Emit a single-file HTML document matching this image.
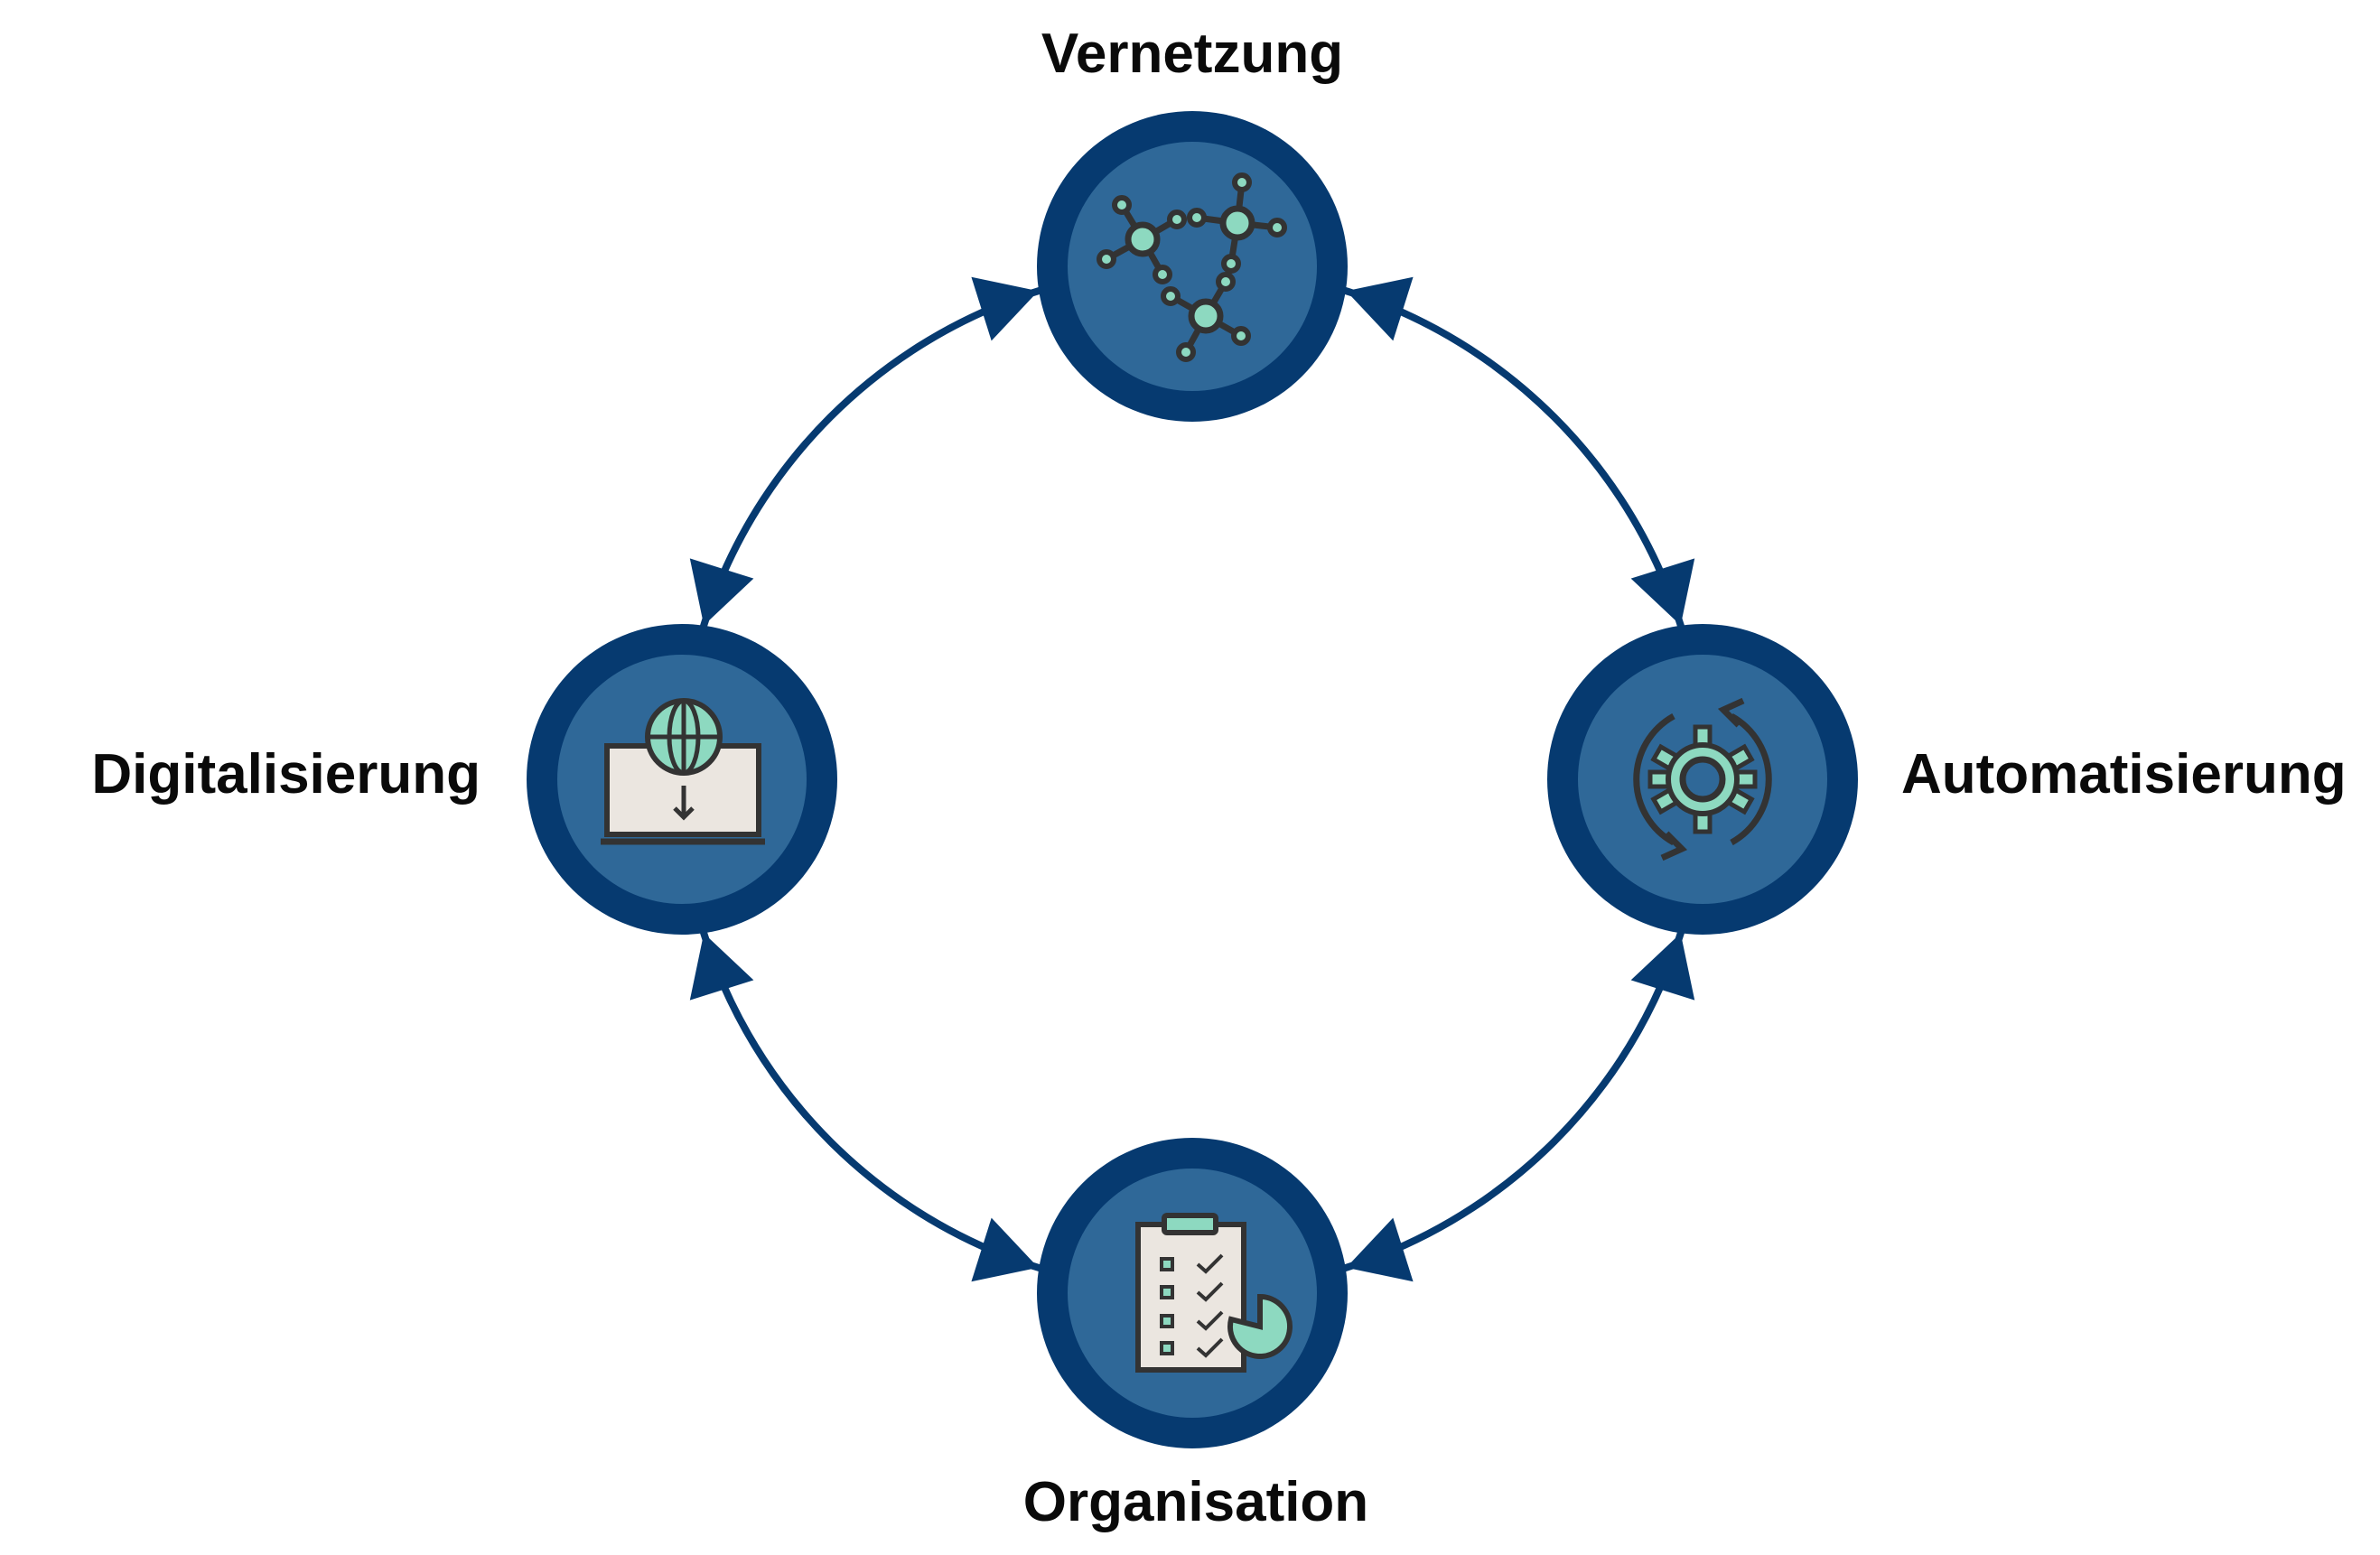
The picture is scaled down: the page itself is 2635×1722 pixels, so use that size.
<!DOCTYPE html>
<html><head><meta charset="utf-8"><style>
html,body{margin:0;padding:0;background:#fff;}
svg{display:block;}
text{font-family:"Liberation Sans",sans-serif;font-weight:bold;fill:#0a0a0a;}
</style></head><body>
<svg width="2635" height="1722" viewBox="0 0 2635 1722" xmlns="http://www.w3.org/2000/svg">
<circle cx="1320" cy="863" r="567" fill="none" stroke="#063a70" stroke-width="8"/>
<g fill="#063a70">
<g transform="translate(1320,863)">
<polygon transform="rotate(-17.5)" points="567,0 530,-66 604,-66"/>
<polygon transform="rotate(72.5)" points="567,0 530,-66 604,-66"/>
<polygon transform="rotate(162.5)" points="567,0 530,-66 604,-66"/>
<polygon transform="rotate(252.5)" points="567,0 530,-66 604,-66"/>
<polygon transform="rotate(17.5)" points="567,0 530,66 604,66"/>
<polygon transform="rotate(107.5)" points="567,0 530,66 604,66"/>
<polygon transform="rotate(197.5)" points="567,0 530,66 604,66"/>
<polygon transform="rotate(287.5)" points="567,0 530,66 604,66"/>
</g>
</g>
<g>
<circle cx="1320" cy="295" r="172" fill="#063a70"/><circle cx="1320" cy="295" r="138" fill="#2f6898"/>
<circle cx="1885" cy="863" r="172" fill="#063a70"/><circle cx="1885" cy="863" r="138" fill="#2f6898"/>
<circle cx="755" cy="863" r="172" fill="#063a70"/><circle cx="755" cy="863" r="138" fill="#2f6898"/>
<circle cx="1320" cy="1432" r="172" fill="#063a70"/><circle cx="1320" cy="1432" r="138" fill="#2f6898"/>
</g>
<g stroke="#333" stroke-width="7" fill="#8dd9c0">
<path d="M1265,265 L1242,227 M1265,265 L1225,287 M1265,265 L1287,304 M1265,265 L1303,243 M1325,241 L1370,247 M1370,247 L1375,202 M1370,247 L1414,252 M1370,247 L1363,292 M1357,312 L1335,350 M1335,350 L1296,328 M1335,350 L1374,372 M1335,350 L1313,390" fill="none"/>
<circle cx="1265" cy="265" r="16"/><circle cx="1370" cy="247" r="16"/><circle cx="1335" cy="350" r="16"/>
<g stroke-width="6">
<circle cx="1242" cy="227" r="8"/><circle cx="1225" cy="287" r="8"/><circle cx="1287" cy="304" r="8"/>
<circle cx="1303" cy="243" r="8"/><circle cx="1325" cy="241" r="8"/><circle cx="1375" cy="202" r="8"/>
<circle cx="1414" cy="252" r="8"/><circle cx="1363" cy="292" r="8"/><circle cx="1357" cy="312" r="8"/>
<circle cx="1296" cy="328" r="8"/><circle cx="1374" cy="372" r="8"/><circle cx="1313" cy="390" r="8"/>
</g>
</g>
<g transform="translate(1885,863)">
<g fill="#8dd9c0" stroke="#333" stroke-width="5">
<rect x="-8" y="-58" width="16" height="116"/>
<rect x="-8" y="-58" width="16" height="116" transform="rotate(60)"/>
<rect x="-8" y="-58" width="16" height="116" transform="rotate(120)"/>
<rect x="-58" y="-8" width="116" height="16"/>
</g>
<circle r="38" fill="#8dd9c0" stroke="#333" stroke-width="6"/>
<circle r="22" fill="#2f6898" stroke="#333" stroke-width="7"/>
<path d="M-32,-70 A80,80 0 0 0 -32,70" fill="none" stroke="#333" stroke-width="7"/>
<path d="M32,70 A80,80 0 0 0 32,-70" fill="none" stroke="#333" stroke-width="7"/>
<path d="M-40,60 L-23,77 L-45,87" fill="none" stroke="#333" stroke-width="7"/>
<path d="M40,-60 L23,-77 L45,-87" fill="none" stroke="#333" stroke-width="7"/>
</g>
<g stroke="#333" stroke-width="6">
<rect x="672" y="826" width="168" height="98" fill="#ebe6e0"/>
<line x1="665" y1="932" x2="847" y2="932" stroke-width="7"/>
<circle cx="757" cy="816" r="40" fill="#8dd9c0"/>
<ellipse cx="757" cy="816" rx="16" ry="40" fill="none" stroke-width="5"/>
<line x1="717" y1="816" x2="797" y2="816" stroke-width="5"/>
<line x1="757" y1="776" x2="757" y2="856" stroke-width="5"/>
<line x1="757" y1="870" x2="757" y2="905" stroke-width="5"/>
<path d="M747,895 L757,905 L767,895" fill="none" stroke-width="5"/>
</g>
<g stroke="#333" stroke-width="6">
<rect x="1260" y="1356" width="117" height="161" fill="#ebe6e0"/>
<rect x="1289" y="1346" width="57" height="19" rx="3" fill="#8dd9c0"/>
<g fill="#8dd9c0" stroke-width="4">
<rect x="1286" y="1394" width="12" height="12"/><rect x="1286" y="1425" width="12" height="12"/>
<rect x="1286" y="1457" width="12" height="12"/><rect x="1286" y="1487" width="12" height="12"/>
</g>
<g fill="none" stroke-width="4">
<path d="M1326,1400 L1335,1408 L1353,1390"/><path d="M1326,1431 L1335,1439 L1353,1421"/>
<path d="M1326,1463 L1335,1471 L1353,1453"/><path d="M1326,1493 L1335,1501 L1353,1483"/>
</g>
<path d="M1395,1469 L1395,1436 A33,33 0 1 1 1363,1461 Z" fill="#8dd9c0"/>
</g>
<text x="1320" y="80" font-size="62" text-anchor="middle">Vernetzung</text>
<text x="2105" y="878" font-size="62">Automatisierung</text>
<text x="532" y="878" font-size="62" text-anchor="end">Digitalisierung</text>
<text x="1324" y="1684" font-size="62" text-anchor="middle">Organisation</text>
</svg>
</body></html>
